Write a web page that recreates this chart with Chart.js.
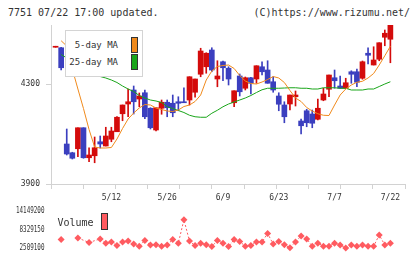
<!DOCTYPE html>
<html><head><meta charset="utf-8">
<script src="https://cdn.jsdelivr.net/npm/chart.js@4.4.1/dist/chart.umd.min.js"></script>
<style>
html,body{margin:0;padding:0;background:#fff;}
body{width:420px;height:259px;position:relative;overflow:hidden;font-family:'DejaVu Sans Mono',monospace;color:#333;}
.abs{position:absolute;white-space:nowrap;}
#hdrL{left:8px;top:6.5px;font-size:10px;line-height:12px;}
#hdrR{right:10px;top:6.5px;font-size:10px;line-height:12px;}
#c1{position:absolute;left:0;top:0;}
#c2{position:absolute;left:0;top:200px;}
#maBox{position:absolute;left:65px;top:30px;width:78px;height:47px;box-sizing:border-box;border:1px solid #d4d4d4;background:#fff;}
.sw{position:absolute;box-sizing:border-box;border:1px solid #333;}
</style>
</head><body>
<div id="hdrL" class="abs">7751 07/22 17:00 updated.</div>
<div id="hdrR" class="abs">(C)https://www.rizumu.net/</div>
<canvas id="c1" width="420" height="206"></canvas>
<canvas id="c2" width="420" height="59"></canvas>
<div id="maBox"></div>
<script>
// ---- data ----
const dates = ['4/23','4/24','4/25','4/28','4/30','5/1','5/2','5/7','5/8','5/9',
 '5/12','5/13','5/14','5/15','5/16','5/19','5/20','5/21','5/22','5/23',
 '5/26','5/27','5/28','5/29','5/30','6/2','6/3','6/4','6/5','6/6',
 '6/9','6/10','6/11','6/12','6/13','6/16','6/17','6/18','6/19','6/20',
 '6/23','6/24','6/25','6/26','6/27','6/30','7/1','7/2','7/3','7/4',
 '7/7','7/8','7/9','7/10','7/11','7/14','7/15','7/16','7/17','7/18','7/22'];
const tickLabels = ['5/12','5/26','6/9','6/23','7/7','7/22'];
const opens  = [4447,4445,4060,4025,4041,4125,4005,4013,4069,4052,
 4079,4109,4181,4220,4276,4240,4265,4203,4116,4203,
 4227,4223,4229,4229,4236,4267,4339,4369,4436,4320,
 4389,4363,4225,4332,4283,4325,4320,4369,4356,4309,
 4252,4216,4220,4249,4152,4193,4180,4159,4236,4279,
 4325,4292,4283,4349,4349,4323,4423,4376,4399,4487,4479];
const highs  = [4447,4447,4120,4027,4125,4125,4045,4088,4092,4127,
 4127,4170,4216,4280,4292,4264,4276,4205,4205,4236,
 4236,4256,4249,4285,4329,4320,4443,4425,4445,4393,
 4392,4369,4273,4340,4328,4327,4373,4389,4393,4329,
 4265,4229,4256,4272,4160,4199,4196,4240,4283,4336,
 4356,4332,4323,4353,4360,4392,4445,4449,4465,4516,4536];
const lows   = [4447,4356,4016,4000,4009,4003,3989,3985,4044,4052,
 4069,4109,4153,4169,4180,4209,4161,4120,4112,4179,
 4169,4169,4193,4225,4216,4247,4329,4343,4349,4289,
 4313,4296,4209,4252,4276,4260,4303,4336,4303,4267,
 4193,4145,4196,4212,4100,4129,4125,4156,4233,4249,
 4283,4283,4283,4303,4289,4319,4380,4376,4393,4453,4385];
const closes = [4447,4365,4020,4003,4125,4005,4016,4045,4060,4092,
 4112,4167,4216,4229,4229,4252,4169,4125,4205,4227,
 4205,4185,4223,4225,4329,4320,4432,4423,4356,4332,
 4365,4320,4273,4269,4325,4303,4373,4349,4303,4276,
 4219,4169,4256,4256,4133,4145,4143,4203,4260,4336,
 4313,4283,4305,4339,4307,4389,4415,4396,4465,4503,4536];
const ma5 = [null,4473,4452,4360,4280,4202,4118,4048,4044,4044,
 4046,4080,4122,4160,4184,4204,4218,4216,4204,4198,
 4192,4190,4196,4210,4216,4230,4256,4316,4352,4370,
 4374,4376,4362,4334,4312,4302,4300,4308,4318,4330,
 4324,4306,4274,4244,4230,4206,4192,4181,4175,4174,
 4216,4256,4280,4296,4307,4311,4324,4342,4376,4413,4451];
const ma25 = [null,4418,4404,4390,4378,4364,4352,4340,4330,4324,
 4316,4306,4292,4280,4270,4254,4244,4236,4232,4226,
 4209,4202,4194,4186,4175,4169,4167,4167,4183,4195,
 4209,4220,4228,4236,4244,4254,4266,4277,4283,4283,
 4283,4284,4285,4285,4283,4283,4280,4280,4285,4285,
 4285,4283,4283,4276,4276,4276,4280,4280,4290,4300,4309];
const volume = [null,5130000,null,null,5620000,null,4170000,null,5330000,3960000,
 4340000,3180000,4340000,4630000,3670000,3000000,4840000,3380000,3470000,3000000,
 3380000,5130000,3960000,11440000,4630000,3180000,3960000,3470000,2890000,4840000,
 3960000,2890000,5130000,4460000,3000000,3180000,4340000,4340000,7080000,3670000,
 4460000,3470000,2510000,4340000,6290000,5330000,3000000,3960000,3000000,3000000,
 3960000,3380000,2420000,3380000,3000000,3380000,3000000,3000000,6580000,3380000,3960000];
const priceTicks = [3900, 4300];
const volumeTicks = [2509100, 8329150, 14149200];
const seriesLabels = ['5-day MA', '25-day MA', 'Volume'];

// ---- style ----
const RED = '#d40b0b', BLUE = '#3b3fbf', ORANGE = '#f08a1c', GREEN = '#19a519', PINK = '#ff5b60';
const MONO = "'DejaVu Sans Mono', monospace";
const AXIS = '#d2d2d2';
const X_MIN = -0.82, X_MAX = 62.62;
Chart.defaults.color = '#333';
Chart.defaults.font.family = MONO;

const candleColor = ctx => (closes[ctx.dataIndex] >= opens[ctx.dataIndex] ? RED : BLUE);
const idx = dates.map((d, i) => i);

new Chart(document.getElementById('c1'), {
  type: 'bar',
  data: {
    datasets: [
      { type: 'line', label: seriesLabels[0], data: idx.map(i => ({x: i, y: ma5[i]})),
        borderColor: ORANGE, borderWidth: 1, pointRadius: 0, fill: false, order: 0, tension: 0 },
      { type: 'line', label: seriesLabels[1], data: idx.map(i => ({x: i, y: ma25[i]})),
        borderColor: GREEN, borderWidth: 1, pointRadius: 0, fill: false, order: 1, tension: 0 },
      { label: 'body', data: idx.map(i => ({x: i, y: [opens[i], closes[i]]})),
        backgroundColor: candleColor, barThickness: 5, minBarLength: 1, grouped: false, order: 2, borderWidth: 0 },
      { label: 'wick', data: idx.map(i => ({x: i, y: [lows[i], highs[i]]})),
        backgroundColor: candleColor, barThickness: 1, minBarLength: 1, grouped: false, order: 3, borderWidth: 0 }
    ]
  },
  options: {
    responsive: false, animation: false, events: [],
    layout: { padding: { top: 25, right: 15, left: 0, bottom: 2 } },
    plugins: { legend: { display: false }, tooltip: { enabled: false } },
    scales: {
      x: {
        type: 'linear', position: 'bottom', min: X_MIN, max: X_MAX, weight: 1, offset: false,
        grid: { display: false, drawTicks: false, offset: false }, border: { display: false },
        ticks: { padding: 4, autoSkip: false, maxRotation: 0, font: { family: MONO, size: 8 }, color: '#333',
                 callback: v => dates[v] },
        afterBuildTicks: s => { s.ticks = tickLabels.map(l => ({ value: dates.indexOf(l) })); },
        afterFit: s => { s.height = 15; }
      },
      x2: {
        type: 'linear', position: 'bottom', min: 0, max: 11, weight: 0, offset: false,
        grid: { drawOnChartArea: false, drawTicks: true, tickLength: 5, color: AXIS, offset: false },
        border: { color: AXIS },
        ticks: { display: false },
        afterBuildTicks: s => { s.ticks = Array.from({ length: 12 }, (_, k) => ({ value: k })); },
        afterFit: s => { s.height = 5; }
      },
      y: {
        min: 3900, max: 4536,
        grid: { drawOnChartArea: false, drawTicks: true, tickLength: 5, color: AXIS },
        border: { color: AXIS },
        ticks: { padding: 6, font: { family: MONO, size: 8 }, color: '#333', callback: v => String(v) },
        afterBuildTicks: s => { s.ticks = priceTicks.map(v => ({ value: v })); },
        afterFit: s => { s.width = 51; }
      }
    }
  }
});

// condense the volume tick labels horizontally (reference draws them narrow)
const condenseLabels = {
  id: 'condenseLabels',
  afterUpdate(chart) {
    const sc = chart.scales.y;
    if (!sc || sc._condensed) return;
    const orig = sc.drawLabels.bind(sc);
    sc.drawLabels = function (area) {
      const ctx = this.ctx, r = 44.5;
      ctx.save();
      ctx.translate(r, 0); ctx.scale(0.74, 1); ctx.translate(-r, 0);
      orig(area);
      ctx.restore();
    };
    sc._condensed = true;
  }
};

new Chart(document.getElementById('c2'), {
  type: 'line',
  data: {
    datasets: [{
      label: seriesLabels[2],
      data: idx.map(i => ({x: i, y: volume[i]})).filter(p => p.y !== null),
      borderColor: PINK, backgroundColor: PINK, borderWidth: 1, borderDash: [2, 2],
      pointStyle: 'rectRot', pointRadius: 3.5, pointBorderWidth: 0, pointBackgroundColor: PINK,
      spanGaps: 2, clip: false, fill: false, tension: 0
    }]
  },
  plugins: [condenseLabels],
  options: {
    responsive: false, animation: false, events: [],
    layout: { padding: { top: 9, right: 15, left: 0, bottom: 10 } },
    plugins: { legend: { display: false }, tooltip: { enabled: false } },
    scales: {
      x: { type: 'linear', min: X_MIN, max: X_MAX, display: false, offset: false },
      y: {
        min: volumeTicks[0], max: volumeTicks[2],
        grid: { display: false, drawTicks: false }, border: { display: false },
        ticks: { padding: 6.5, font: { family: MONO, size: 8 }, color: '#333', callback: v => String(v) },
        afterBuildTicks: s => { s.ticks = volumeTicks.map(v => ({ value: v })); },
        afterFit: s => { s.width = 51; }
      }
    }
  }
});

// ---- HTML legends (real text) ----
function addText(txt, css) {
  const d = document.createElement('div');
  d.className = 'abs'; d.textContent = txt; Object.assign(d.style, css);
  document.body.appendChild(d);
}
function addSwatch(color, css) {
  const d = document.createElement('div');
  d.className = 'sw'; d.style.background = color; Object.assign(d.style, css);
  document.body.appendChild(d);
}
addText(seriesLabels[0], { right: '302px', top: '40px', fontSize: '9px', lineHeight: '11px', textAlign: 'right' });
addText(seriesLabels[1], { right: '302px', top: '57px', fontSize: '9px', lineHeight: '11px', textAlign: 'right' });
addSwatch(ORANGE, { left: '130.5px', top: '36.5px', width: '7px', height: '16px' });
addSwatch(GREEN, { left: '130.5px', top: '54px', width: '7px', height: '15.5px' });
addText(seriesLabels[2], { left: '57.5px', top: '215.5px', fontSize: '10px', lineHeight: '13px' });
addSwatch(PINK, { left: '100.5px', top: '213px', width: '7px', height: '17px' });
</script>
</body></html>
